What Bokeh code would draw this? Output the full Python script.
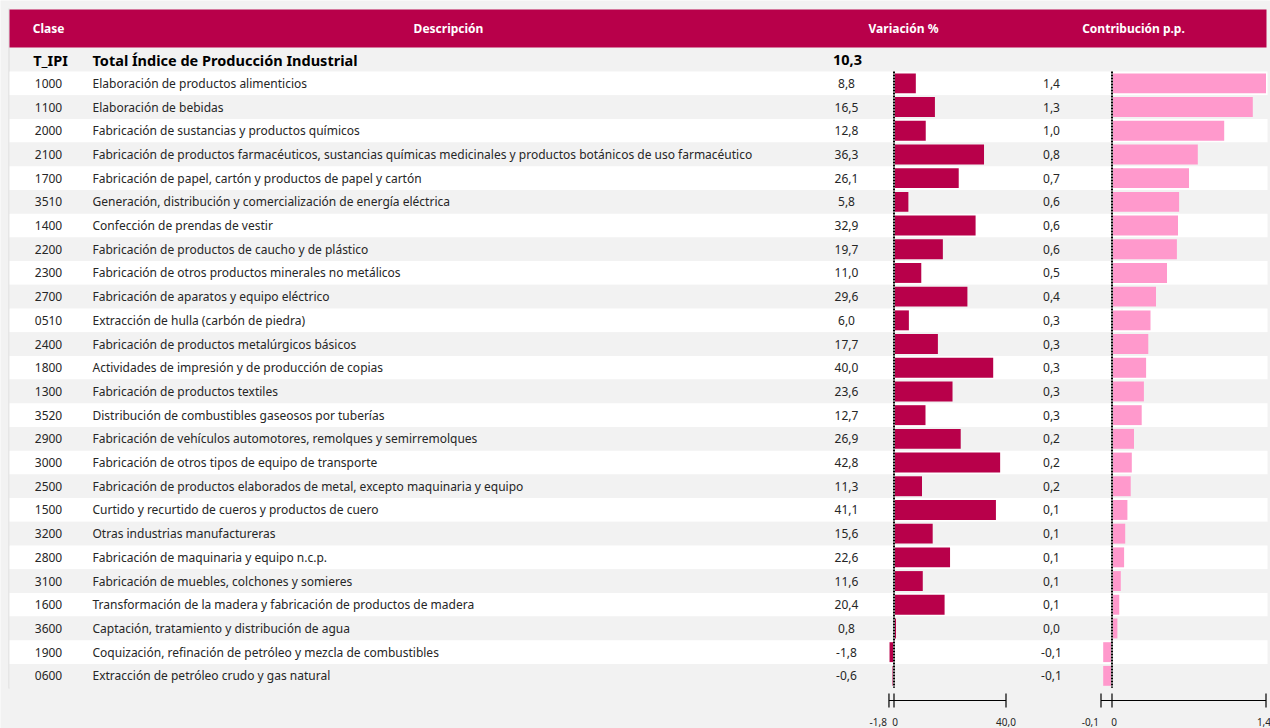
from bokeh.plotting import figure
from bokeh.models import Range1d
from bokeh.core.properties import value
from bokeh.embed import file_html
from bokeh.resources import INLINE

# ---------------- data ----------------
headers = ["Clase", "Descripción", "Variación %", "Contribución p.p."]
total_clase = "T_IPI"
total_desc = "Total Índice de Producción Industrial"
total_var = 10.3

clase = ["1000", "1100", "2000", "2100", "1700", "3510", "1400", "2200", "2300",
         "2700", "0510", "2400", "1800", "1300", "3520", "2900", "3000", "2500",
         "1500", "3200", "2800", "3100", "1600", "3600", "1900", "0600"]
descripcion = [
    "Elaboración de productos alimenticios",
    "Elaboración de bebidas",
    "Fabricación de sustancias y productos químicos",
    "Fabricación de productos farmacéuticos, sustancias químicas medicinales y productos botánicos de uso farmacéutico",
    "Fabricación de papel, cartón y productos de papel y cartón",
    "Generación, distribución y comercialización de energía eléctrica",
    "Confección de prendas de vestir",
    "Fabricación de productos de caucho y de plástico",
    "Fabricación de otros productos minerales no metálicos",
    "Fabricación de aparatos y equipo eléctrico",
    "Extracción de hulla (carbón de piedra)",
    "Fabricación de productos metalúrgicos básicos",
    "Actividades de impresión y de producción de copias",
    "Fabricación de productos textiles",
    "Distribución de combustibles gaseosos por tuberías",
    "Fabricación de vehículos automotores, remolques y semirremolques",
    "Fabricación de otros tipos de equipo de transporte",
    "Fabricación de productos elaborados de metal, excepto maquinaria y equipo",
    "Curtido y recurtido de cueros y productos de cuero",
    "Otras industrias manufactureras",
    "Fabricación de maquinaria y equipo n.c.p.",
    "Fabricación de muebles, colchones y somieres",
    "Transformación de la madera y fabricación de productos de madera",
    "Captación, tratamiento y distribución de agua",
    "Coquización, refinación de petróleo y mezcla de combustibles",
    "Extracción de petróleo crudo y gas natural",
]
variacion = [8.8, 16.5, 12.8, 36.3, 26.1, 5.8, 32.9, 19.7, 11.0, 29.6, 6.0, 17.7,
             40.0, 23.6, 12.7, 26.9, 42.8, 11.3, 41.1, 15.6, 22.6, 11.6, 20.4,
             0.8, -1.8, -0.6]
contribucion = [1.40, 1.28, 1.02, 0.78, 0.70, 0.61, 0.60, 0.59, 0.50, 0.40, 0.35,
                0.33, 0.31, 0.29, 0.27, 0.20, 0.18, 0.17, 0.14, 0.12, 0.11, 0.08,
                0.066, 0.049, -0.08, -0.08]
var_axis_ticks = [-1.8, 0.0, 40.0]
con_axis_ticks = [-0.1, 0.0, 1.4]

# ---------------- style / layout ----------------
W, H = 1270, 728
BG = "#f2f2f2"
CRIMSON = "#b8004a"
PINK = "#ff99cc"
TXT = "#262626"
FONT = value("Noto Sans")

top0 = 71.0      # top of first data row (px)
rh = 23.7        # row height (px)
x0v, sv = 893.5, 2.48    # variation bars: zero position, px per unit
sa = 2.8                 # variation range strip: px per unit
x0c, sc = 1111.5, 110.0  # contribution bars
x_code, x_desc, x_var, x_con = 48, 92, 846, 1051
axis_y = 700


def fmt(v, nd=1):
    return f"{v:.{nd}f}".replace(".", ",")


p = figure(width=W, height=H, x_range=Range1d(0, W), y_range=Range1d(H, 0),
           output_backend="svg", toolbar_location=None, min_border=0,
           x_axis_location=None, y_axis_location=None,
           background_fill_color=BG, border_fill_color=BG, outline_line_color=None)
p.grid.visible = False

p.extra_x_ranges = {
    "var": Range1d(-x0v / sv, (W - x0v) / sv),
    "vax": Range1d(-x0v / sa, (W - x0v) / sa),
    "con": Range1d(-x0c / sc, (W - x0c) / sc),
}
p.extra_y_ranges = {"rows": Range1d((H - top0) / rh - 0.5, -top0 / rh - 0.5)}

n = len(clase)
rows = list(range(n))

# table frame line
p.segment(x0=[8.5], x1=[8.5], y0=[8], y1=[688], line_color="#dadada", line_width=1)

# header band
p.quad(left=9, right=1266, top=9, bottom=47, color=CRIMSON, line_color=None)
p.text(x=[x_code, 448, 903, 1133], y=[27.5] * 4, text=headers,
       text_color="white", text_font=FONT, text_font_style="bold",
       text_font_size="12px", text_align="center", text_baseline="middle")

# row backgrounds
p.hbar(y=rows, left=9, right=1267, height=1.0,
       color=["white" if i % 2 == 0 else BG for i in rows], line_color=None,
       y_range_name="rows")

# total row
tot = dict(text_color="black", text_font=FONT, text_font_style="bold",
           text_font_size="14.5px", text_baseline="middle", y_range_name="rows")
p.text(x=[x_code + 2], y=[-1], text=[total_clase], text_align="center", **tot)
p.text(x=[x_desc], y=[-1], text=[total_desc], text_align="left", **tot)
p.text(x=[x_var + 1], y=[-1], text=[fmt(total_var)], text_align="center", **tot)

# row texts
common = dict(text_color=TXT, text_font=FONT, text_font_size="12px",
              text_baseline="middle", y_range_name="rows")
p.text(x=[x_code] * n, y=rows, text=clase, text_align="center", **common)
p.text(x=[x_desc] * n, y=rows, text=descripcion, text_align="left", **common)
p.text(x=[x_var] * n, y=rows, text=[fmt(v) for v in variacion], text_align="center", **common)
p.text(x=[x_con] * n, y=rows, text=[fmt(v) for v in contribucion], text_align="center", **common)

# bars
p.hbar(y=rows, left=0, right=variacion, height=0.84, color=CRIMSON, line_color=None,
       x_range_name="var", y_range_name="rows")
p.hbar(y=rows, left=0, right=contribucion, height=0.84, color=PINK, line_color=None,
       x_range_name="con", y_range_name="rows")

# zero lines
for rn in ("var", "con"):
    p.segment(x0=[0], x1=[0], y0=[-0.5], y1=[n - 0.5], line_color="white",
              line_width=2, x_range_name=rn, y_range_name="rows")
    p.segment(x0=[0], x1=[0], y0=[-0.5], y1=[n - 0.5], line_color="black",
              line_width=2, line_dash="2 1", x_range_name=rn, y_range_name="rows")

# range strips (bottom)
strips = (("vax", var_axis_ticks, ["right", "center", "center"], [-2, 1, 0]),
          ("con", con_axis_ticks, ["right", "center", "right"], [-2, 2, 5]))
for rn, ticks, aligns, offs in strips:
    p.segment(x0=[ticks[0]], x1=[ticks[-1]], y0=[axis_y], y1=[axis_y],
              line_color="black", line_width=1.2, x_range_name=rn)
    p.segment(x0=ticks, x1=ticks, y0=[axis_y - 7] * 3, y1=[axis_y + 7] * 3,
              line_color="black", line_width=1.2, x_range_name=rn)
    for t, a, o in zip(ticks, aligns, offs):
        lab = "0" if t == 0 else fmt(t)
        p.text(x=[t], y=[axis_y + 21], text=[lab], text_align=a, x_offset=o,
               text_baseline="middle", text_color=TXT, text_font=FONT,
               text_font_size="10px", x_range_name=rn)

html = file_html(p, INLINE)
html = html.replace("<body>", '<body style="background-color:#f2f2f2;">', 1)
open("out.html", "w").write(html)
